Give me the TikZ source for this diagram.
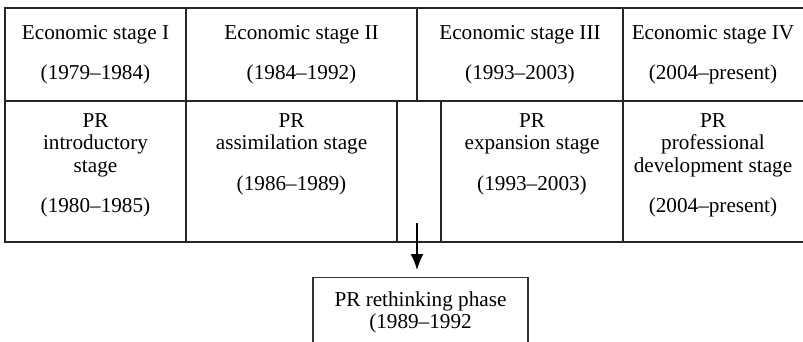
\documentclass[tikz,border=0pt]{standalone}
\usepackage{fontspec}
\setmainfont{Liberation Serif}
\usetikzlibrary{arrows.meta}
\usetikzlibrary{positioning}
\tikzstyle{cell}=[anchor=north, align=center, inner sep=0pt, font={\fontsize{10.6}{11.25}\selectfont}]
\tikzstyle{rule}=[line width=0.8pt, black!85]
\tikzstyle{phasebox}=[draw=black!80, line width=0.7pt, anchor=north, align=center, minimum width=107.5pt, inner xsep=0pt, inner ysep=6.8pt, text depth=30pt, font={\fontsize{10.6}{11.25}\selectfont}]
\tikzstyle{link}=[-{Latex[length=8pt,width=6.5pt]}, line width=0.8pt, shorten >=3.5pt]

\begin{document}
\begin{tikzpicture}[x=0.5pt, y=-0.5pt]

    \clip (0,0) rectangle (803,342);

    \draw[rule] (803,8) -- (5,8) -- (5,242) -- (803,242);
    \draw[rule] (5,101) -- (803,101);
    \draw[rule] (186,8) -- (186,242);
    \draw[rule] (623,8) -- (623,242);
    \draw[rule] (417,8) -- (417,101);
    \draw[rule] (397,101) -- (397,242);
    \draw[rule] (441,101) -- (441,242);

    \node[cell] (econI) at (95.5, 25) {Economic stage I\\[9pt](1979--1984)};
    \node[cell] (econII) at (301.5, 25) {Economic stage II\\[9pt](1984--1992)};
    \node[cell] (econIII) at (520, 25) {Economic stage III\\[9pt](1993--2003)};
    \node[cell] (econIV) at (713, 25) {Economic stage IV\\[9pt](2004--present)};

    \node[cell] (prIntro) at (95.5, 113) {PR\\introductory\\stage\\[9pt](1980--1985)};
    \node[cell] (prAssim) at (291.5, 113) {PR\\assimilation stage\\[9pt](1986--1989)};
    \node[cell] (prExpand) at (532, 113) {PR\\expansion stage\\[9pt](1993--2003)};
    \node[cell] (prProf) at (713, 113) {PR\\professional\\development stage\\[9pt](2004--present)};

    \node[phasebox] (rethink) at (420.5, 277) {PR rethinking phase\\(1989--1992};

    \coordinate (gap) at (417, 223);
    \draw[link] (gap) -- (gap |- rethink.north);

\end{tikzpicture}
\end{document}
